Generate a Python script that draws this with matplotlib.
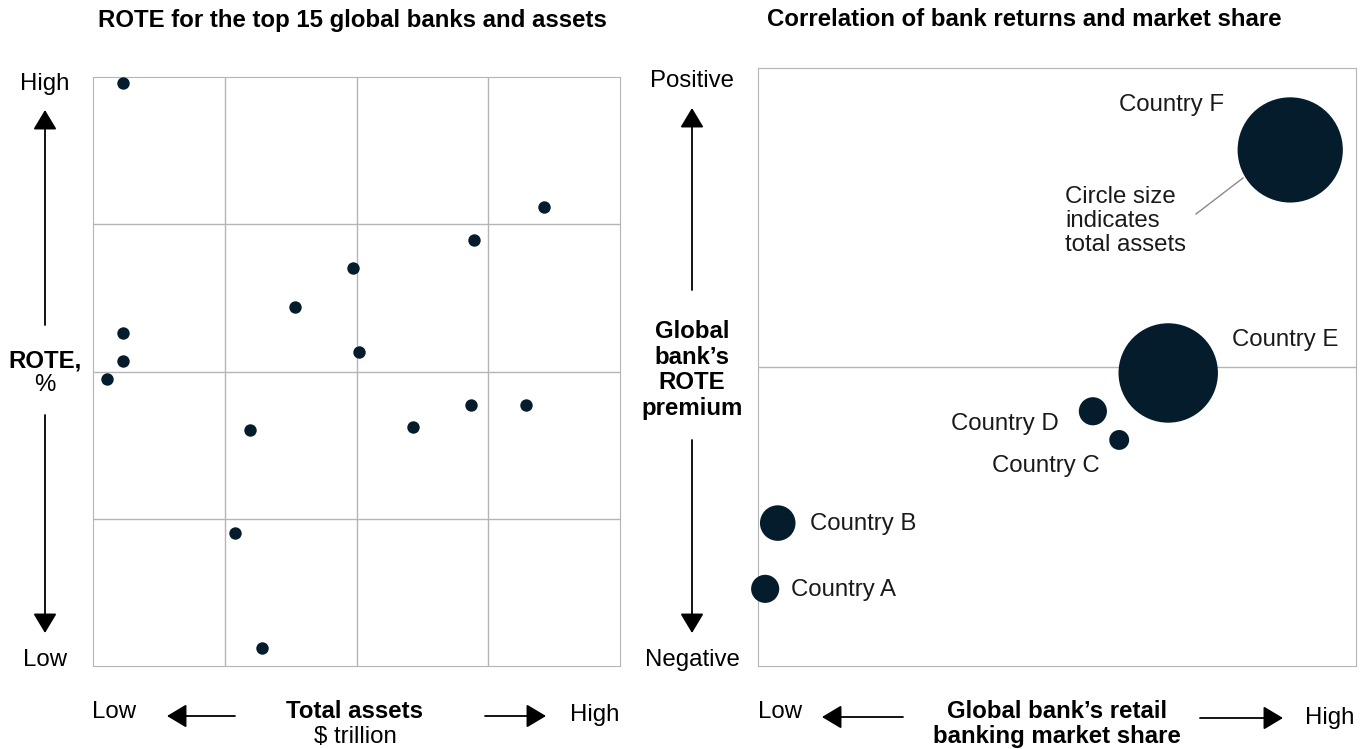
import matplotlib.pyplot as plt

plt.rcParams['font.family'] = ['Liberation Sans', 'DejaVu Sans']

# Left chart: ROTE vs total assets (relative units, grid 0-4)
assets_x = [0.23, 3.42, 2.89, 1.97, 1.53, 0.23, 0.23, 2.02, 0.11, 2.87, 3.29, 2.43, 1.19, 1.08, 1.28]
rote_y = [3.96, 3.12, 2.89, 2.70, 2.44, 2.26, 2.07, 2.13, 1.95, 1.77, 1.77, 1.62, 1.60, 0.90, 0.12]

# Right chart: countries, market share vs ROTE premium, bubble = total assets
countries = ['Country A', 'Country B', 'Country C', 'Country D', 'Country E', 'Country F']
share_x = [0.012, 0.033, 0.604, 0.560, 0.686, 0.890]
premium_y = [0.129, 0.239, 0.378, 0.426, 0.490, 0.863]
total_assets = [2.0, 3.2, 1.0, 2.0, 25.0, 28.0]

navy = '#051c2c'
grey = '#b5b5b5'
W, H = 1370, 749


def fp(x, y):
    # pixel position -> figure fraction
    return x / W, 1 - y / H


fig = plt.figure(figsize=(13.7, 7.49), dpi=100)

# ---- left panel
ax1 = fig.add_axes([93 / W, 1 - 666 / H, 527 / W, 589 / H])
ax1.scatter(assets_x, rote_y, s=80, color=navy, zorder=3, linewidths=0)
ax1.set_xlim(0, 4)
ax1.set_ylim(0, 4)
for v in [1, 2, 3]:
    ax1.axvline(v, color=grey, lw=1)
    ax1.axhline(v, color=grey, lw=1)
ax1.set_xticks([])
ax1.set_yticks([])
for s in ax1.spines.values():
    s.set_color(grey)

# ---- right panel
ax2 = fig.add_axes([758 / W, 1 - 666 / H, 598 / W, 598 / H])
sizes = [a * 205 for a in total_assets]
ax2.scatter(share_x, premium_y, s=sizes, color=navy, zorder=3, linewidths=0, clip_on=False)
ax2.axhline(0.5, color=grey, lw=1)
ax2.set_xlim(0, 1)
ax2.set_ylim(0, 1)
ax2.set_xticks([])
ax2.set_yticks([])
for s in ax2.spines.values():
    s.set_color(grey)

lab_fs = 17.3
offsets = {
    'Country A': (26, -1, 'left'),
    'Country B': (32, -1, 'left'),
    'Country C': (-20, -26, 'right'),
    'Country D': (-34, -13, 'right'),
    'Country E': (64, 33, 'left'),
    'Country F': (-66, 45, 'right'),
}
for name, x, y in zip(countries, share_x, premium_y):
    dx, dy, ha = offsets[name]
    ax2.annotate(name, (x, y), xytext=(dx, dy), textcoords='offset pixels',
                 ha=ha, va='center', fontsize=lab_fs, color='#1a1a1a')

fig.text(*fp(1065, 221), 'Circle size\nindicates\ntotal assets', ha='left', va='center',
         fontsize=lab_fs, color='#1a1a1a', linespacing=1.12)
fig.add_artist(plt.Line2D([1196 / W, 1243 / W], [1 - 214 / H, 1 - 178 / H], color='#8a8a8a', lw=1))

# ---- titles
fig.text(*fp(352, 20), 'ROTE for the top 15 global banks and assets', ha='center', va='center',
         fontsize=17.3, fontweight='bold')
fig.text(*fp(1024, 20), 'Correlation of bank returns and market share', ha='center', va='center',
         fontsize=17.3, fontweight='bold')

fs = 17.3
ast = '-|>,head_length=0.55,head_width=0.33'


def arrow(x0, y0, x1, y1):
    fig.add_artist(plt.matplotlib.patches.FancyArrowPatch(
        fp(x0, y0), fp(x1, y1), transform=fig.transFigure, arrowstyle=ast,
        mutation_scale=22, color='black', lw=1.3, shrinkA=0, shrinkB=0))


# left y-axis annotations
fig.text(*fp(45, 84), 'High', ha='center', va='center', fontsize=fs)
fig.text(*fp(45, 660), 'Low', ha='center', va='center', fontsize=fs)
arrow(45, 325, 45, 110)
arrow(45, 415, 45, 633)
fig.text(*fp(45, 361), 'ROTE,', ha='center', va='center', fontsize=fs, fontweight='bold')
fig.text(*fp(45, 385), '%', ha='center', va='center', fontsize=fs)

# left x-axis annotations
fig.text(*fp(114, 712), 'Low', ha='center', va='center', fontsize=fs)
arrow(235, 716, 167, 716)
fig.text(*fp(355, 712), 'Total assets', ha='center', va='center', fontsize=fs, fontweight='bold')
fig.text(*fp(355, 737), '$ trillion', ha='center', va='center', fontsize=fs)
arrow(485, 716, 546, 716)
fig.text(*fp(595, 715), 'High', ha='center', va='center', fontsize=fs)

# right y-axis annotations
fig.text(*fp(692, 81), 'Positive', ha='center', va='center', fontsize=fs)
fig.text(*fp(692, 660), 'Negative', ha='center', va='center', fontsize=fs)
arrow(692, 290, 692, 108)
arrow(692, 440, 692, 633)
fig.text(*fp(692, 370), 'Global\nbank\u2019s\nROTE\npremium', ha='center', va='center',
         fontsize=fs, fontweight='bold', linespacing=1.13)

# right x-axis annotations
fig.text(*fp(780, 712), 'Low', ha='center', va='center', fontsize=fs)
arrow(903, 717, 822, 717)
fig.text(*fp(1057, 724), 'Global bank\u2019s retail\nbanking market share', ha='center', va='center',
         fontsize=fs, fontweight='bold', linespacing=1.13)
arrow(1200, 718, 1283, 718)
fig.text(*fp(1330, 718), 'High', ha='center', va='center', fontsize=fs)

fig.savefig('out.png', dpi=100)
